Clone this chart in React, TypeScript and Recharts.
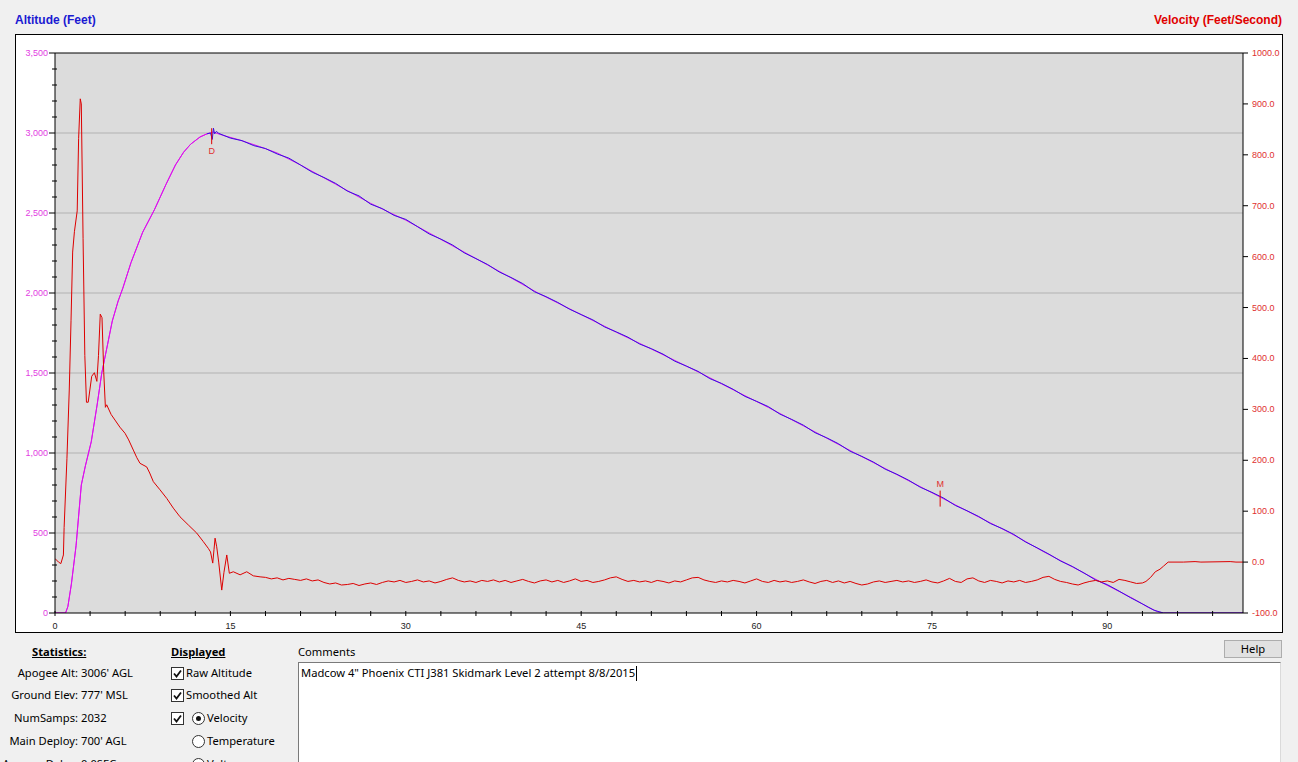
import React from 'react';
import { ComposedChart, Line, Scatter, XAxis, YAxis, ReferenceLine, CartesianGrid } from 'recharts';

// Smoothed altitude (seconds, feet AGL)
const smoothTime = [0, 0.9, 1.1, 1.4, 1.8, 2.25, 2.6, 3.1, 3.6, 4.0, 4.5, 4.9, 5.4, 5.8, 6.5, 7.5, 8.5, 9.5, 10.3, 11.0,
  11.6, 12.4, 13.0, 13.5, 14.3, 15.8, 17.5, 19.0, 21, 24, 27, 28.7, 30, 33, 36, 39, 41.3, 45, 48, 51,
  55.2, 58, 61, 64, 68.4, 72, 75.7, 79, 81.7, 84.5, 87.1, 89.4, 91, 92.2, 93.5, 94.3, 94.8, 101.6];
const smoothAlt = [0, 0, 40, 180, 420, 800, 920, 1070, 1300, 1500, 1680, 1825, 1950, 2030, 2190, 2380, 2520, 2680, 2800, 2880,
  2930, 2975, 2995, 3006, 2987, 2956, 2915, 2875, 2800, 2680, 2560, 2500, 2455, 2335, 2215, 2095, 2000, 1865, 1755, 1650,
  1500, 1395, 1285, 1170, 1000, 865, 725, 600, 500, 385, 285, 195, 135, 90, 35, 8, 0, 0];

// Raw altitude (seconds, feet AGL)
const rawTime = [0, 0.9, 1.1, 1.4, 1.8, 2.25, 2.6, 3.1, 3.6, 4.0, 4.5, 4.9, 5.4, 5.8, 6.5, 7.5, 8.5, 9.5, 10.3, 11.0,
  11.6, 12.4, 13.0, 13.3, 13.45, 13.55, 13.65, 13.8, 14, 15, 16, 17, 18, 19, 20, 21, 22, 23, 24,
  25, 26, 27, 28, 29, 30, 31, 32, 33, 34, 35, 36, 37, 38, 39, 40, 41, 42, 43, 44,
  45, 46, 47, 48, 49, 50, 51, 52, 53, 54, 55, 56, 57, 58, 59, 60, 61, 62, 63, 64,
  65, 66, 67, 68, 69, 70, 71, 72, 73, 74, 75, 76, 77, 78, 79, 80, 81, 82, 83, 84,
  85, 86, 87, 88, 89, 90, 91, 92, 93, 94, 94.8, 101.6];
const rawAlt = [0, 0, 40, 180, 420, 800, 920, 1070, 1300, 1500, 1680, 1825, 1950, 2030, 2190, 2380, 2520, 2680, 2800, 2880,
  2930, 2975, 2995, 3000, 2960, 3030, 2995, 3010, 2998, 2968, 2952, 2921, 2903, 2869, 2843, 2800, 2755, 2722, 2685,
  2637, 2607, 2555, 2527, 2485, 2460, 2415, 2369, 2337, 2300, 2251, 2215, 2178, 2131, 2097, 2059, 2008, 1977, 1941, 1899,
  1865, 1832, 1788, 1757, 1724, 1681, 1652, 1618, 1574, 1543, 1510, 1465, 1435, 1398, 1354, 1323, 1290, 1243, 1210, 1174,
  1127, 1095, 1058, 1011, 979, 943, 899, 867, 830, 786, 754, 718, 672, 639, 603, 559, 528, 491, 444, 407,
  368, 325, 291, 250, 206, 177, 137, 95, 57, 17, 0, 0];

// Velocity, boost and coast (seconds, ft/s)
const boostTime = [0, 0.3, 0.5, 0.72, 0.78, 1.02, 1.22, 1.37, 1.51, 1.66, 1.9, 2.02, 2.16, 2.25, 2.4, 2.55, 2.69, 2.84, 3.14, 3.37,
  3.58, 3.72, 3.87, 4.02, 4.17, 4.31, 4.42, 4.8, 5.13, 5.55, 5.99, 6.3, 6.7, 7.0, 7.27, 7.84, 8.1, 8.41, 8.98, 9.56,
  10.12, 10.69, 11.4, 12.12, 12.69, 13.11, 13.3, 13.49, 13.6, 13.69, 13.83, 14.0, 14.26, 14.45, 14.69, 14.91, 15.25, 15.83, 16.4, 16.96,
  17.54];
const boostVel = [7, 0, -3, 14, 68, 203, 338, 474, 609, 649, 690, 832, 910, 900, 636, 406, 314, 314, 365, 372,
  355, 406, 487, 480, 372, 304, 309, 290, 279, 265, 253, 240, 220, 205, 194, 187, 175, 158, 142, 125,
  106, 89, 73, 57, 40, 27, 20, -2, 25, 47, 30, 0, -55, -20, 14, -22, -19, -25, -19, -27,
  -29];

// Velocity under chute, one reading every half second from 18.0 s to 93.0 s
const descentStart = 18;
const descentStep = 0.5;
const descentVel = [
  -30, -33, -31, -35, -32, -34, -36, -33, -37, -35,
  -40, -43, -41, -45, -44, -42, -46, -43, -41, -44,
  -40, -37, -39, -36, -40, -38, -35, -39, -37, -41,
  -38, -34, -31, -36, -39, -37, -40, -36, -38, -35,
  -39, -36, -40, -37, -34, -38, -41, -37, -35, -39,
  -36, -40, -37, -33, -38, -36, -40, -38, -35, -31,
  -29, -34, -38, -36, -39, -37, -40, -36, -38, -41,
  -37, -39, -35, -31, -30, -35, -38, -40, -37, -39,
  -36, -38, -41, -37, -33, -38, -40, -36, -39, -37,
  -40, -38, -35, -39, -42, -38, -36, -40, -37, -41,
  -38, -42, -45, -43, -39, -37, -40, -38, -36, -39,
  -37, -40, -38, -35, -39, -41, -37, -32, -38, -40,
  -33, -31, -37, -40, -36, -38, -41, -37, -39, -36,
  -40, -38, -35, -30, -28, -34, -38, -40, -43, -45,
  -41, -38, -36, -39, -37, -40, -34, -36, -39, -42,
  -41];

// Landing (seconds, ft/s)
const landTime = [93.3, 93.7, 94.1, 94.5, 94.8, 95.2, 96.5, 97.5, 98, 100.5, 101, 101.6];
const landVel = [-38, -30, -19, -14, -8, 0, 0, 1, 0, 1, 0, 0];

// Deployment events
const events = [
  { label: 'D', t: 13.4, alt: 2980 },
  { label: 'M', t: 75.7, alt: 715 },
];

const timeTicks = [0, 3, 6, 9, 12, 15, 18, 21, 24, 27, 30, 33, 36, 39, 42, 45, 48, 51, 54, 57, 60, 63, 66, 69, 72, 75, 78, 81, 84, 87, 90, 93, 96, 99];
const altTicks = [0, 100, 200, 300, 400, 500, 600, 700, 800, 900, 1000, 1100, 1200, 1300, 1400, 1500, 1600, 1700, 1800, 1900,
  2000, 2100, 2200, 2300, 2400, 2500, 2600, 2700, 2800, 2900, 3000, 3100, 3200, 3300, 3400, 3500];
const velTicks = [-100, 0, 100, 200, 300, 400, 500, 600, 700, 800, 900, 1000];
const altGrid = [500, 1000, 1500, 2000, 2500, 3000];

const smoothData = smoothTime.map((t, i) => ({ t, alt: smoothAlt[i] }));
const rawData = rawTime.map((t, i) => ({ t, alt: rawAlt[i] }));
const velData = [
  ...boostTime.map((t, i) => ({ t, v: boostVel[i] })),
  ...descentVel.map((v, i) => ({ t: descentStart + i * descentStep, v })),
  ...landTime.map((t, i) => ({ t, v: landVel[i] })),
];

const W = 1268;
const H = 599;
const PL = 40;
const PR = W - 40;
const PB = H - 20;
const tickFont = 'Liberation Sans, Arial, sans-serif';

const AltTick = (p: any) => {
  const v = p.payload.value;
  const major = v % 500 === 0;
  return (
    <g>
      <line x1={major ? PL - 6 : PL - 3} x2={major ? PL : PL + 2} y1={p.y} y2={p.y} stroke="#000" />
      {major && (
        <text x={PL - 7} y={p.y + 3} textAnchor="end" fontSize={9} fontFamily={tickFont} fill="#e23ce2">
          {v.toLocaleString('en-US')}
        </text>
      )}
    </g>
  );
};

const VelTick = (p: any) => {
  const v = p.payload.value;
  return (
    <g>
      <line x1={PR} x2={PR + 5} y1={p.y} y2={p.y} stroke="#000" />
      <text x={PR + 9} y={p.y + 3} textAnchor="start" fontSize={9} fontFamily={tickFont} fill="#e03030">
        {v.toFixed(1)}
      </text>
    </g>
  );
};

const TimeTick = (p: any) => {
  const v = p.payload.value;
  return (
    <g>
      <line x1={p.x} x2={p.x} y1={PB - 2} y2={PB + 3} stroke="#000" />
      {v % 15 === 0 && (
        <text x={p.x} y={PB + 16} textAnchor="middle" fontSize={9} fontFamily={tickFont} fill="#222">
          {v}
        </text>
      )}
    </g>
  );
};

const EventMark = (p: any) => {
  const { cx, cy, payload } = p;
  const below = payload.label === 'D';
  return (
    <g>
      <line x1={cx} x2={cx} y1={cy - 8} y2={cy + 8} stroke="#e00000" />
      <text x={cx} y={below ? cy + 18 : cy - 12} textAnchor="middle" fontSize={9} fontFamily={tickFont} fill="#e03030">
        {payload.label}
      </text>
    </g>
  );
};

const CheckBox = ({ left, top }: { left: number; top: number }) => (
  <div style={{ position: 'absolute', left, top, width: 11, height: 11, border: '1px solid #333', background: '#fff' }}>
    <svg width={11} height={11} style={{ position: 'absolute', left: 0, top: 0 }}>
      <path d="M2 5.5 L4.5 8.5 L9 2.5" stroke="#111" strokeWidth={1.8} fill="none" />
    </svg>
  </div>
);

const Radio = ({ left, top, on }: { left: number; top: number; on?: boolean }) => (
  <div style={{ position: 'absolute', left, top, width: 11, height: 11, border: '1px solid #333', borderRadius: '50%', background: '#fff' }}>
    {on && <div style={{ position: 'absolute', left: 3, top: 3, width: 5, height: 5, borderRadius: '50%', background: '#111' }} />}
  </div>
);

const uiFont = '"Noto Sans", "Open Sans", sans-serif';

const Txt = ({ left, top, children, bold, under, align, width }: any) => (
  <div style={{
    position: 'absolute', left, top, width, lineHeight: '16px', fontSize: 11.2, whiteSpace: 'nowrap',
    fontWeight: bold ? 700 : 400, textDecoration: under ? 'underline' : 'none', textAlign: align || 'left', color: '#000',
  }}>
    {children}
  </div>
);

const stats = [
  ['Apogee Alt:', "3006' AGL"],
  ['Ground Elev:', "777' MSL"],
  ['NumSamps:', '2032'],
  ['Main Deploy:', "700' AGL"],
  ['Apogee Delay:', '0.0SEC'],
];
const statRows = [665, 687, 710, 733, 756];

export default function App() {
  return (
    <div style={{ position: 'fixed', left: 0, top: 0, width: 1298, height: 762, background: '#f0f0f0', overflow: 'hidden', fontFamily: uiFont }}>
      <div style={{ position: 'absolute', left: 15, top: 13, fontFamily: tickFont, fontWeight: 700, fontSize: 12, color: '#1a1ad2' }}>
        Altitude (Feet)
      </div>
      <div style={{ position: 'absolute', right: 16, top: 13, fontFamily: tickFont, fontWeight: 700, fontSize: 12, color: '#e00000' }}>
        Velocity (Feet/Second)
      </div>
      <div style={{ position: 'absolute', left: 15, top: 34, width: W, height: H, boxSizing: 'border-box', border: '1px solid #000', background: '#fff' }} />
      <div style={{ position: 'absolute', left: 15, top: 34 }}>
        <ComposedChart width={W} height={H} margin={{ top: 19, right: 0, bottom: 0, left: 0 }}>
          <CartesianGrid yAxisId="alt" fill="#dcdcdc" horizontal={false} vertical={false} stroke="none" />
          <XAxis type="number" dataKey="t" domain={[0, 101.6]} ticks={timeTicks} interval={0} height={20}
            allowDataOverflow axisLine={{ stroke: '#000' }} tickLine={false} tick={(p: any) => <TimeTick {...p} />} />
          <YAxis yAxisId="alt" orientation="left" width={40} domain={[0, 3500]} ticks={altTicks} interval={0}
            allowDataOverflow axisLine={{ stroke: '#000' }} tickLine={false} tick={(p: any) => <AltTick {...p} />} />
          <YAxis yAxisId="vel" orientation="right" width={40} domain={[-100, 1000]} ticks={velTicks} interval={0}
            allowDataOverflow axisLine={{ stroke: '#000' }} tickLine={false} tick={(p: any) => <VelTick {...p} />} />
          {altGrid.map((g) => (
            <ReferenceLine key={g} yAxisId="alt" y={g} stroke="#b2b2b2" />
          ))}
          <ReferenceLine yAxisId="alt" y={3500} stroke="#000" />
          <Line yAxisId="alt" data={smoothData} dataKey="alt" stroke="#dd10ee" strokeWidth={1} dot={false} isAnimationActive={false} />
          <Line yAxisId="alt" data={rawData.filter((d) => d.t >= 13)} dataKey="alt" stroke="#3a10e0" strokeWidth={1} dot={false} isAnimationActive={false} />
          <Line yAxisId="alt" data={smoothData.filter((d) => d.t < 13.2)} dataKey="alt" stroke="#dd10ee" strokeWidth={1} dot={false} isAnimationActive={false} />
          <Line yAxisId="vel" data={velData} dataKey="v" stroke="#dd0000" strokeWidth={1} dot={false} isAnimationActive={false} />
          <Scatter yAxisId="alt" data={events} dataKey="alt" shape={(p: any) => <EventMark {...p} />} isAnimationActive={false} />
        </ComposedChart>
      </div>

      <Txt left={32} top={644} bold under>Statistics:</Txt>
      {stats.map((s, i) => (
        <React.Fragment key={s[0]}>
          <Txt left={0} width={78} top={statRows[i]} align="right">{s[0]}</Txt>
          <Txt left={81} top={statRows[i]}>{s[1]}</Txt>
        </React.Fragment>
      ))}

      <Txt left={171} top={644} bold under>Displayed</Txt>
      <CheckBox left={171} top={667} />
      <Txt left={186} top={665}>Raw Altitude</Txt>
      <CheckBox left={171} top={689} />
      <Txt left={186} top={687}>Smoothed Alt</Txt>
      <CheckBox left={171} top={712} />
      <Radio left={192} top={712} on />
      <Txt left={207} top={710}>Velocity</Txt>
      <Radio left={192} top={735} />
      <Txt left={207} top={733}>Temperature</Txt>
      <Radio left={192} top={758} />
      <Txt left={207} top={756}>Voltage</Txt>

      <Txt left={298} top={644}>Comments</Txt>
      <div style={{ position: 'absolute', left: 298, top: 662, width: 983, height: 110, boxSizing: 'border-box', background: '#fff',
        borderTop: '1px solid #7a7a7a', borderLeft: '1px solid #7a7a7a', borderRight: '1px solid #dadada' }} />
      <Txt left={301} top={665}>Madcow 4" Phoenix CTI J381 Skidmark Level 2 attempt 8/8/2015</Txt>
      <div style={{ position: 'absolute', left: 636, top: 666, width: 1, height: 15, background: '#000' }} />

      <div style={{ position: 'absolute', left: 1224, top: 640, width: 58, height: 18, boxSizing: 'border-box', background: '#e1e1e1',
        border: '1px solid #adadad', fontSize: 11.2, lineHeight: '16px', textAlign: 'center', color: '#000' }}>
        Help
      </div>
    </div>
  );
}
